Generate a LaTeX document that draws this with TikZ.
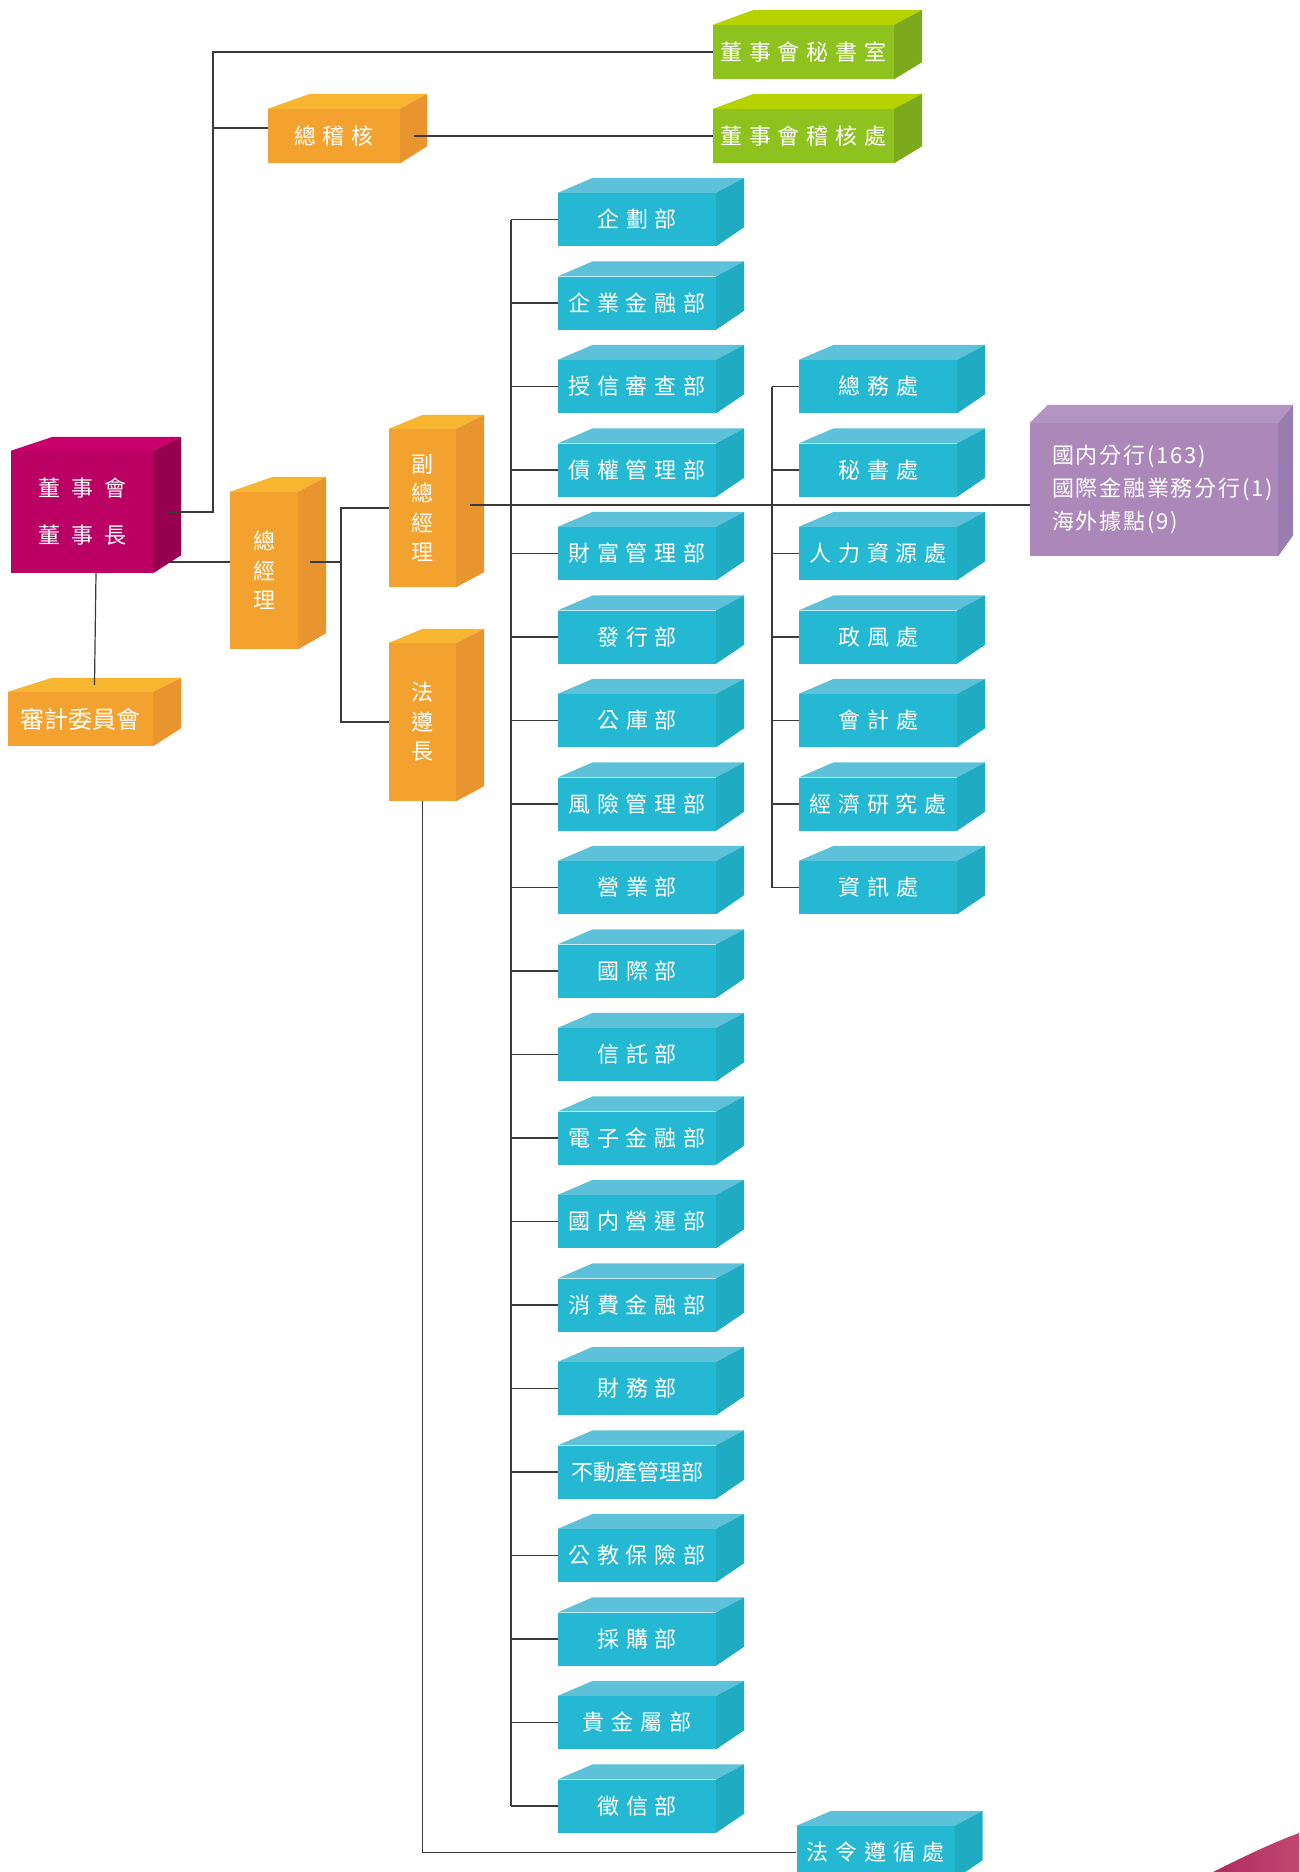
\documentclass[tikz,border=0pt]{standalone}
\usepackage{fontspec}
\usepackage{xcolor}
\usepackage{tikz}
\usetikzlibrary{calc}
\newfontfamily\cjkfont{Noto Sans CJK TC}
\newfontfamily\branchfont[LetterSpace=8]{Noto Sans CJK TC}
\definecolor{cyanfront}{HTML}{24B8D2}
\definecolor{cyantop}{HTML}{5CC1D9}
\definecolor{cyanside}{HTML}{1FACC3}
\definecolor{orangefront}{HTML}{F4A22F}
\definecolor{orangetop}{HTML}{F8B530}
\definecolor{orangeside}{HTML}{E8952F}
\definecolor{greenfront}{HTML}{8EC31F}
\definecolor{greentop}{HTML}{B6D200}
\definecolor{greenside}{HTML}{7CAA1C}
\definecolor{boardfront}{HTML}{BB0064}
\definecolor{boardtop}{HTML}{C8006B}
\definecolor{boardside}{HTML}{97004F}
\definecolor{branchfront}{HTML}{AB87BA}
\definecolor{branchtop}{HTML}{B395C3}
\definecolor{branchside}{HTML}{9A7DB0}
\definecolor{decoleft}{HTML}{B02C5E}
\definecolor{decoright}{HTML}{C0476F}
\definecolor{linegray}{HTML}{3A3A3A}
\newcommand{\boxfont}{\cjkfont\fontsize{22}{29.5}\selectfont\spaceskip=7pt\relax}
\newcommand{\boardfont}{\cjkfont\fontsize{22}{47}\selectfont\spaceskip=11pt\relax}
% top and right faces of a box: node, top colour, side colour, dl, dr, dt, db
\newcommand{\boxsides}[7]{%
  \fill[#2] (#1.north west) -- ++(#4,-#6) -- ($(#1.north east)+(#5,-#6)$)
    -- (#1.north east) -- cycle;
  \fill[#3] (#1.north east) -- ++(#5,-#6) -- ($(#1.south east)+(#5,-#7)$)
    -- (#1.south east) -- cycle;}

\begin{document}
\begin{tikzpicture}[x=1pt, y=-1pt,
  face/.style={inner sep=0pt, text=white, font=\boxfont},
  cyanbox/.style={face, fill=cyanfront, minimum width=158pt, minimum height=53pt},
  orangebox/.style={face, fill=orangefront},
  greenbox/.style={face, fill=greenfront, minimum width=181pt, minimum height=54pt},
  tallbox/.style={orangebox, minimum width=67pt, minimum height=158pt, align=center},
  conn/.style={draw=linegray, line width=1.2pt}
]
\useasboundingbox (0,0) rectangle (1299,1872);
\clip (0,0) rectangle (1299,1872);

% board
\node[face, fill=boardfront, minimum width=142pt, minimum height=122pt, align=center,
  font=\boardfont] (board) at (82,512) {董 事 會\\董 事 長};
\boxsides{board}{boardtop}{boardside}{42}{28}{14}{18}
\node[orangebox, minimum width=145pt, minimum height=54pt,
  font=\cjkfont\fontsize{24}{29}\selectfont] (auditcom) at (80.5,719) {審計委員會};
\boxsides{auditcom}{orangetop}{orangeside}{44}{28}{14}{18}

% secretariat and auditing
\node[greenbox] (secretary) at (803.5,52) {董 事 會 秘 書 室};
\boxsides{secretary}{greentop}{greenside}{41}{28}{15}{17}
\node[greenbox] (boardaudit) at (803.5,136) {董 事 會 稽 核 處};
\boxsides{boardaudit}{greentop}{greenside}{41}{28}{15}{17}
\node[orangebox, minimum width=132pt, minimum height=54pt] (chiefaudit) at (334,136) {總 稽 核};
\boxsides{chiefaudit}{orangetop}{orangeside}{42}{27}{15}{17}

% president, EVP, compliance
\node[tallbox, minimum width=68pt, minimum height=157pt] (president) at (264,570.5) {總\\經\\理};
\boxsides{president}{orangetop}{orangeside}{43}{28}{15}{16}
\node[tallbox] (evp) at (422.5,508) {副\\總\\經\\理};
\boxsides{evp}{orangetop}{orangeside}{34}{28}{14}{15}
\node[tallbox] (compliance) at (422.5,722) {法\\遵\\長};
\boxsides{compliance}{orangetop}{orangeside}{34}{28}{14}{15}

% departments
\foreach \name [count=\i from 0] in {企 劃 部, 企 業 金 融 部, 授 信 審 查 部, 債 權 管 理 部,
  財 富 管 理 部, 發 行 部, 公 庫 部, 風 險 管 理 部, 營 業 部, 國 際 部, 信 託 部,
  電 子 金 融 部, 國 内 營 運 部, 消 費 金 融 部, 財 務 部, 不動產管理部, 公 教 保 險 部,
  採 購 部, 貴 金 屬 部, 徵 信 部}{
  \node[cyanbox] (dept\i) at (637,{219.5+83.5*\i}) {\name};
  \boxsides{dept\i}{cyantop}{cyanside}{35}{28}{15}{19}
}

% offices
\foreach \name [count=\i from 0] in {總 務 處, 秘 書 處, 人 力 資 源 處, 政 風 處,
  會 計 處, 經 濟 研 究 處, 資 訊 處}{
  \node[cyanbox] (office\i) at (878,{386.5+83.5*\i}) {\name};
  \boxsides{office\i}{cyantop}{cyanside}{35}{28}{15}{19}
}

% branches
\node[face, fill=branchfront, minimum height=133pt, text width=204pt, inner xsep=22pt,
  align=left, font=\branchfont\fontsize{22}{33}\selectfont] (branches) at (1154,489.5)
  {國内分行(163)\\國際金融業務分行(1)\\海外據點(9)};
\boxsides{branches}{branchtop}{branchside}{18}{15}{18}{21}

% legal compliance office
\node[cyanbox] (legal) at (875.5,1852.5) {法 令 遵 循 處};
\boxsides{legal}{cyantop}{cyanside}{35}{28}{15}{19}

% connectors
\coordinate (trunk) at (213,0);
\coordinate (fork) at (341,562);
\coordinate (spineL) at (511,0);
\coordinate (spineR) at (772,0);
\draw[conn] ($(board.east)+(14,0)$) -| (secretary.west -| trunk) -- (secretary.west);
\draw[conn] ([yshift=8pt]chiefaudit.west -| trunk) -- ([yshift=8pt]chiefaudit.west);
\draw[conn] ($(chiefaudit.east)+(14,0)$) -- (boardaudit.west);
\draw[conn] ($(board.south)+(14,0)$) -- ($(auditcom.north)+(14,-7)$);
\draw[conn] ($(board.east)+(14,50)$) coordinate (bp) -- (bp -| president.west);
\draw[conn] ($(president.east)+(12,-8.5)$) -- (fork);
\draw[conn] (evp.west) -| (fork);
\draw[conn] (compliance.west) -| (fork);
\draw[conn] ($(evp.east)+(14,-3)$) coordinate (ep) -- (ep -| branches.west);
\draw[conn] (compliance.south) |- (legal.west);
\draw[conn] (dept0.west -| spineL) -- (dept19.west -| spineL);
\foreach \i in {0,...,19}
  \draw[conn] (dept\i.west) -- (dept\i.west -| spineL);
\draw[conn] (office0.west -| spineR) -- (office6.west -| spineR);
\foreach \i in {0,...,6}
  \draw[conn] (office\i.west) -- (office\i.west -| spineR);

% corner decoration
\shade[left color=decoleft, right color=decoright]
  (1213,1872) .. controls (1245,1856) and (1272,1843) .. (1299,1833) -- (1299,1872) -- cycle;
\end{tikzpicture}
\end{document}
